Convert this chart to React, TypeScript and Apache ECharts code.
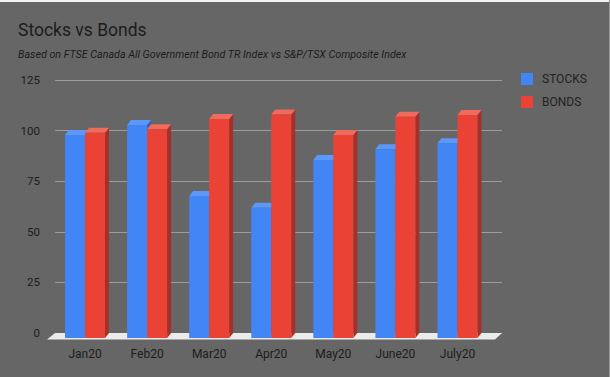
import React, { useEffect, useRef } from "react";
import * as echarts from "echarts";

const categories = ["Jan20", "Feb20", "Mar20", "Apr20", "May20", "June20", "July20"];
const stocks = [100.3, 105.2, 70.2, 64.4, 87.9, 93.2, 96.2];
const bonds = [101.4, 103.1, 108.2, 110.4, 100.3, 109.3, 110.2];
const yTicks = [0, 25, 50, 75, 100, 125];

const FONT = "Roboto, 'Liberation Sans', Arial, sans-serif";
const DX = 4;
const DY = 5;

function make3D(name: string, values: number[], colors: { front: string; top: string; side: string }, slot: number) {
  return {
    type: "custom",
    name,
    xAxisIndex: 1,
    yAxisIndex: 1,
    z: 3 + slot,
    itemStyle: { color: colors.front },
    data: values.map((v, i) => [i, v]),
    renderItem: (params: any, api: any) => {
      const idx = api.value(0);
      const v = api.value(1);
      const top = api.coord([idx, v]);
      const base = api.coord([idx, 0]);
      const catW = api.size([1, 0])[0];
      const bw = catW * 0.322;
      const x0 = top[0] + (slot === 0 ? -bw : 0);
      const x1 = x0 + bw;
      const yT = top[1];
      const yB = base[1];
      return {
        type: "group",
        children: [
          {
            type: "polygon",
            shape: { points: [[x1, yB], [x1, yT], [x1 + DX, yT - DY], [x1 + DX, yB - DY]] },
            style: { fill: colors.side },
          },
          {
            type: "polygon",
            shape: { points: [[x0, yT], [x1, yT], [x1 + DX, yT - DY], [x0 + DX, yT - DY]] },
            style: { fill: colors.top },
          },
          {
            type: "rect",
            shape: { x: x0, y: yT, width: bw, height: yB - yT },
            style: { fill: colors.front },
          },
        ],
      };
    },
  };
}

export default function App() {
  const ref = useRef<HTMLDivElement>(null);
  useEffect(() => {
    document.body.style.margin = "0";
    if (!ref.current) return;
    const chart = echarts.init(ref.current, null, { renderer: "svg" });
    chart.setOption({
      animation: false,
      backgroundColor: "#666666",
      textStyle: { fontFamily: FONT },
      title: [
        {
          text: "Stocks vs Bonds",
          left: 18,
          top: 21,
          padding: 0,
          textStyle: { fontFamily: FONT, fontSize: 17.5, fontWeight: "normal", color: "#1c1c1c" },
        },
        {
          text: "Based on FTSE Canada All Government Bond TR Index vs S&P/TSX Composite Index",
          left: 18,
          top: 49,
          padding: 0,
          textStyle: { fontFamily: FONT, fontSize: 10.7, fontStyle: "italic", fontWeight: "normal", color: "#1c1c1c" },
        },
      ],
      legend: {
        orient: "vertical",
        left: 521,
        top: 73,
        padding: 0,
        itemWidth: 12,
        itemHeight: 12,
        itemGap: 11,
        icon: "rect",
        data: ["STOCKS", "BONDS"],
        textStyle: { fontFamily: FONT, fontSize: 12, color: "#222222", padding: [0, 0, 0, 4] },
      },
      grid: [
        { left: 55, right: 108, top: 80, bottom: 44 },
        { left: 54, right: 121.5, top: 85, bottom: 39 },
      ],
      xAxis: [
        { type: "value", gridIndex: 0, show: false, min: 0, max: 1 },
        {
          type: "category",
          gridIndex: 1,
          data: categories,
          axisLine: { show: false },
          axisTick: { show: false },
          axisLabel: { margin: 10, fontFamily: FONT, fontSize: 12, color: "#1c1c1c" },
        },
      ],
      yAxis: [
        {
          type: "value",
          gridIndex: 0,
          min: 0,
          max: 125,
          interval: 25,
          axisLine: { show: false },
          axisTick: { show: false },
          axisLabel: {
            margin: 15,
            fontFamily: FONT,
            fontSize: 11.5,
            color: "#1c1c1c",
            formatter: (v: number) => (yTicks.includes(v) ? String(v) : ""),
          },
          splitLine: { lineStyle: { color: "#9c9c9c", width: 1 } },
        },
        { type: "value", gridIndex: 1, min: 0, max: 125, show: false },
      ],
      graphic: [
        {
          type: "polygon",
          z: 1,
          shape: { points: [[47, 339.5], [55, 333], [502, 333], [495, 339.5]] },
          style: { fill: "#ebebeb" },
        },
        { type: "rect", z: 1, shape: { x: 0, y: 0, width: 610, height: 2 }, style: { fill: "#f2f2f2" } },
        { type: "rect", z: 1, shape: { x: 609, y: 0, width: 1, height: 377 }, style: { fill: "#9a9a9a" } },
      ],
      series: [
        make3D("STOCKS", stocks, { front: "#4285F4", top: "#5b98f8", side: "#2f62bf" }, 0),
        make3D("BONDS", bonds, { front: "#EA4335", top: "#ef6b5e", side: "#a3302a" }, 1),
      ],
    });
    return () => chart.dispose();
  }, []);
  return <div ref={ref} style={{ width: 610, height: 377 }} />;
}
